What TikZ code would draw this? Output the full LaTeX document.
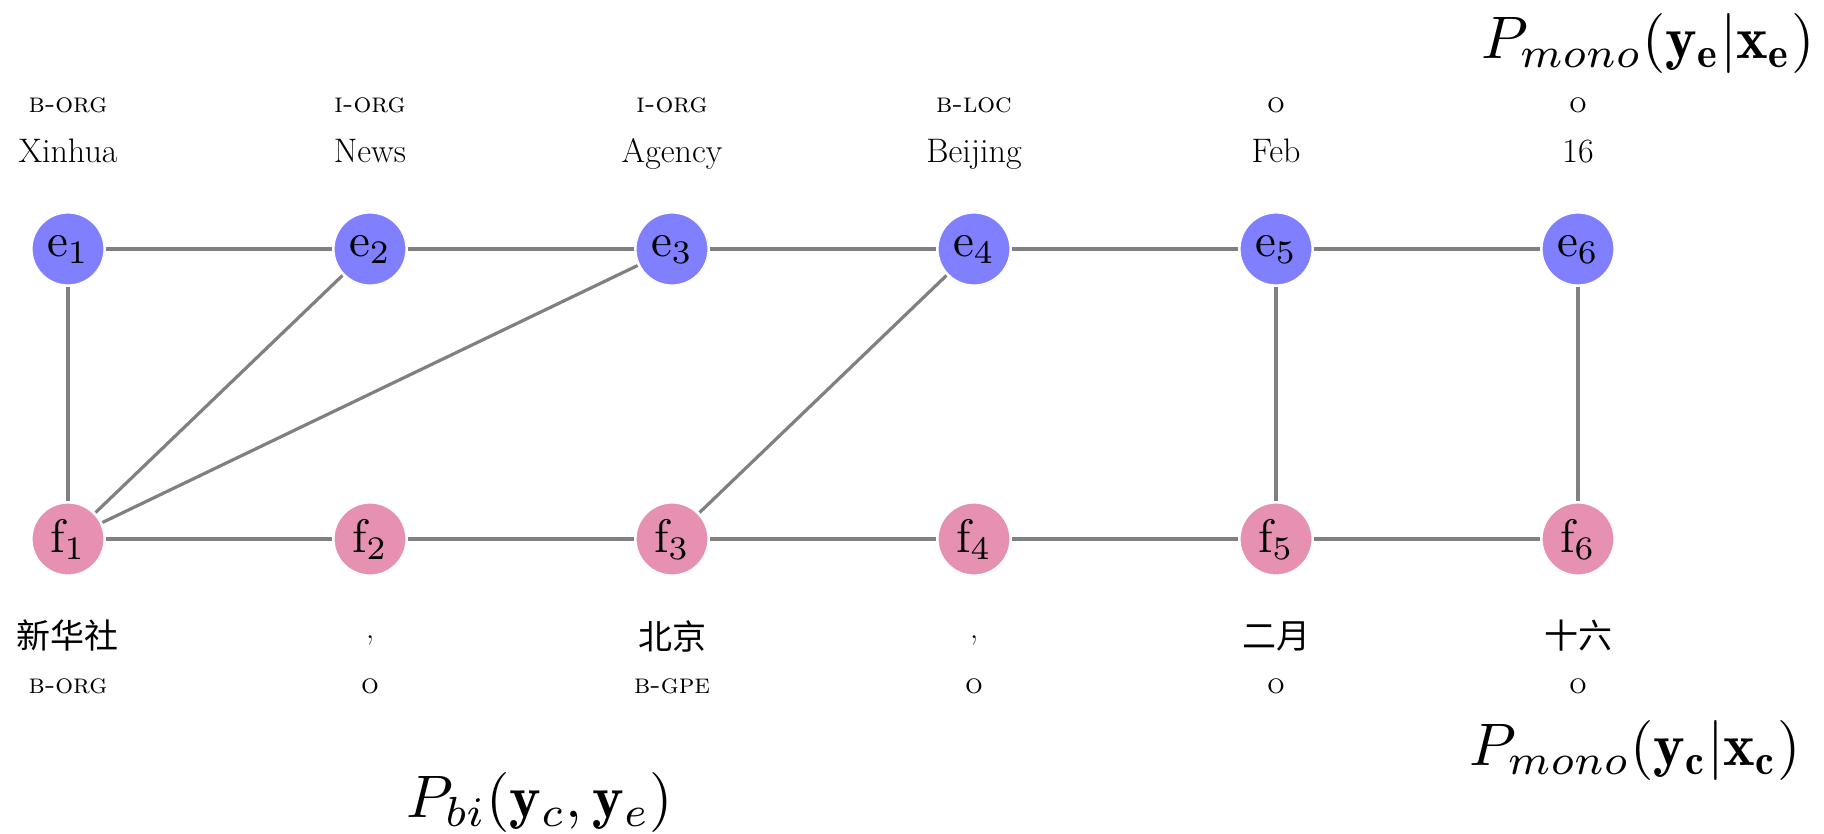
\documentclass[tikz,border=0pt]{standalone}
\usepackage{graphicx}
\usepackage{fontspec}
\newfontfamily\cjk{Noto Sans CJK SC}
\definecolor{ecol}{RGB}{128,128,255}
\definecolor{fcol}{RGB}{230,145,178}
\definecolor{lcol}{RGB}{128,128,128}
\newcommand{\nlab}[2]{\scalebox{2.35}{$\mathrm{#1}_{#2}$}}
\newcommand{\bigmath}[1]{\scalebox{3.0}{$#1$}}
\tikzset{
  enode/.style={circle, fill=ecol, draw=white, line width=0.6pt, minimum size=36pt, inner sep=0pt},
  fnode/.style={circle, fill=fcol, draw=white, line width=0.6pt, minimum size=36pt, inner sep=0pt},
  link/.style={draw=lcol, line width=1.6pt, shorten <=0.8pt, shorten >=0.8pt},
  tagtext/.style={anchor=base, inner sep=0pt, font=\fontsize{14}{16}\selectfont\addfontfeatures{FakeStretch=1.15,FakeBold=0.5}\scshape},
  wordtext/.style={anchor=base, inner sep=0pt, font=\fontsize{17}{20}\selectfont\addfontfeatures{FakeStretch=1.15,FakeBold=0.5}},
  cjktext/.style={anchor=center, inner sep=0pt, font=\fontsize{17}{20}\selectfont\cjk},
  prob/.style={anchor=center, inner sep=0pt}
}
\begin{document}
\begin{tikzpicture}[x=0.5pt,y=-0.5pt]
\useasboundingbox (0,0) rectangle (1824,834);
% top tags and words
\node[tagtext] (te1) at (68,113) {b-org};
\node[tagtext] (te2) at (370,113) {i-org};
\node[tagtext] (te3) at (672,113) {i-org};
\node[tagtext] (te4) at (974,113) {b-loc};
\node[tagtext] (te5) at (1276,113) {o};
\node[tagtext] (te6) at (1578,113) {o};
\node[wordtext] (we1) at (68,163) {Xinhua};
\node[wordtext] (we2) at (370,163) {News};
\node[wordtext] (we3) at (672,163) {Agency};
\node[wordtext] (we4) at (974,163) {Beijing};
\node[wordtext] (we5) at (1276,163) {Feb};
\node[wordtext] (we6) at (1578,163) {16};
% nodes
\node[enode] (e1) at (68,249) {\nlab{e}{1}};
\node[enode] (e2) at (370,249) {\nlab{e}{2}};
\node[enode] (e3) at (672,249) {\nlab{e}{3}};
\node[enode] (e4) at (974,249) {\nlab{e}{4}};
\node[enode] (e5) at (1276,249) {\nlab{e}{5}};
\node[enode] (e6) at (1578,249) {\nlab{e}{6}};
\node[fnode] (f1) at (68,539) {\nlab{f}{1}};
\node[fnode] (f2) at (370,539) {\nlab{f}{2}};
\node[fnode] (f3) at (672,539) {\nlab{f}{3}};
\node[fnode] (f4) at (974,539) {\nlab{f}{4}};
\node[fnode] (f5) at (1276,539) {\nlab{f}{5}};
\node[fnode] (f6) at (1578,539) {\nlab{f}{6}};
% edges
\draw[link] (e1) -- (e2);
\draw[link] (e2) -- (e3);
\draw[link] (e3) -- (e4);
\draw[link] (e4) -- (e5);
\draw[link] (e5) -- (e6);
\draw[link] (f1) -- (f2);
\draw[link] (f2) -- (f3);
\draw[link] (f3) -- (f4);
\draw[link] (f4) -- (f5);
\draw[link] (f5) -- (f6);
\draw[link] (e1) -- (f1);
\draw[link] (f1) -- (e2);
\draw[link] (f1) -- (e3);
\draw[link] (f3) -- (e4);
\draw[link] (e5) -- (f5);
\draw[link] (e6) -- (f6);
% bottom words and tags
\node[cjktext] (wf1) at (68,636) {新华社};
\node[wordtext, anchor=center] (wf2) at (370,640) {,};
\node[cjktext] (wf3) at (672,636) {北京};
\node[wordtext, anchor=center] (wf4) at (974,640) {,};
\node[cjktext] (wf5) at (1276,636) {二月};
\node[cjktext] (wf6) at (1578,636) {十六};
\node[tagtext] (tf1) at (68,693) {b-org};
\node[tagtext] (tf2) at (370,693) {o};
\node[tagtext] (tf3) at (672,693) {b-gpe};
\node[tagtext] (tf4) at (974,693) {o};
\node[tagtext] (tf5) at (1276,693) {o};
\node[tagtext] (tf6) at (1578,693) {o};
% probabilities
\node[prob] (pe) at (1648,44) {\bigmath{P_{mono}(\mathbf{y_e}|\mathbf{x_e})}};
\node[prob] (pc) at (1635,750) {\bigmath{P_{mono}(\mathbf{y_c}|\mathbf{x_c})}};
\node[prob] (pb) at (540,802) {\bigmath{P_{bi}(\mathbf{y}_c,\mathbf{y}_e)}};
\end{tikzpicture}
\end{document}
